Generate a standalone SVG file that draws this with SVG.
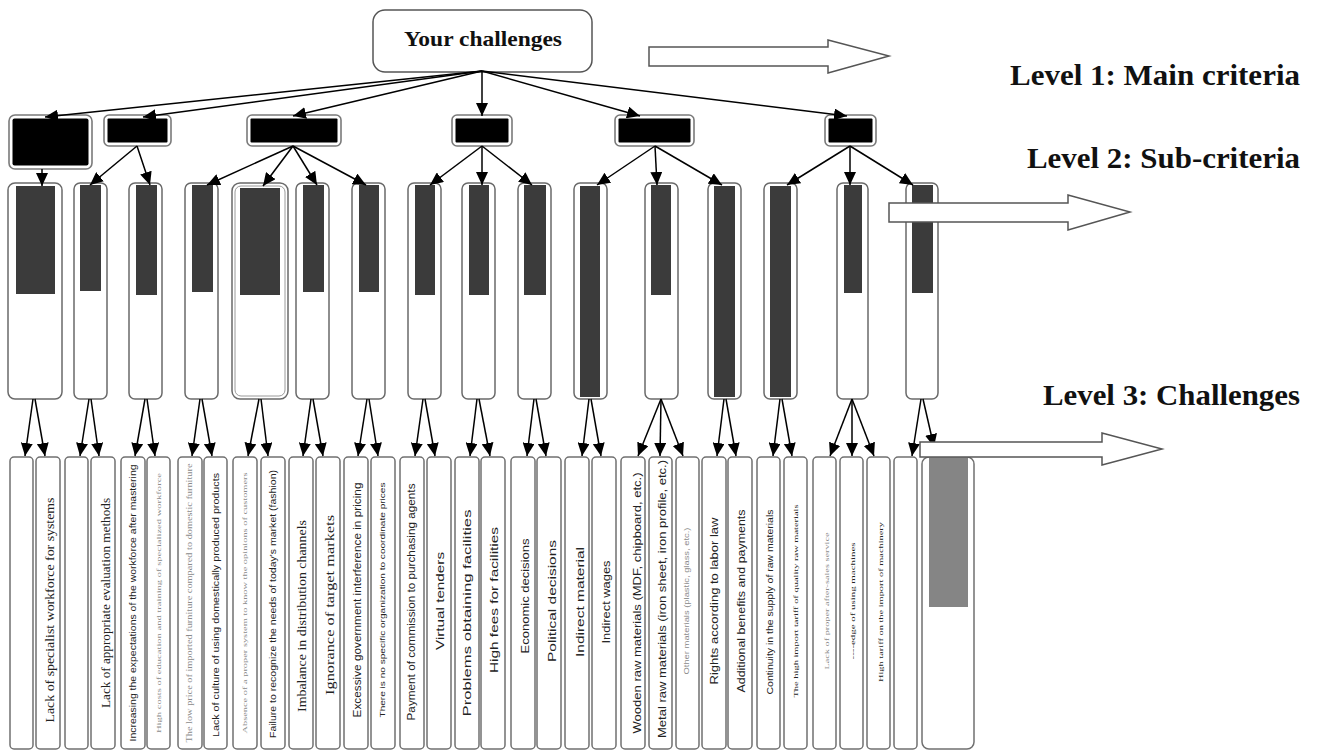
<svg xmlns="http://www.w3.org/2000/svg" width="1319" height="753" viewBox="0 0 1319 753">
<defs>
<marker id="ah" markerUnits="userSpaceOnUse" markerWidth="13" markerHeight="12" refX="13" refY="6" orient="auto">
<path d="M0,0 L13,6 L0,12 z" fill="#000"/>
</marker>
<style>
.root{fill:#fff;stroke:#555;stroke-width:1.5}
.l1o{fill:#fff;stroke:#7a7a7a;stroke-width:1.6}
.l1i{fill:#000}
.l2{fill:#fff;stroke:#6a6a6a;stroke-width:1.5}
.dk{fill:#3b3b3b}
.l3{fill:#fff;stroke:#707070;stroke-width:1.5}
.gr{fill:#858585}
.con line{stroke:#000;stroke-width:1.5;marker-end:url(#ah)}
.ha{fill:#fff;stroke:#555;stroke-width:1.5}
.lvl{font-family:"Liberation Serif",serif;font-weight:bold;fill:#111}
.t{font-family:"Liberation Serif",serif;fill:#222}
.s{font-family:"Liberation Sans",sans-serif;fill:#222}
.g{fill:#8a8a8a}
</style>
</defs>
<rect width="1319" height="753" fill="#fff"/>

<g id="root">
<rect class="root" x="373" y="10" width="219" height="62" rx="12"/>
<text class="lvl" x="483" y="46" font-size="22" text-anchor="middle" textLength="158" lengthAdjust="spacingAndGlyphs">Your challenges</text>
</g>

<g id="level1">
<g id="c1"><rect class="l1o" x="9" y="115" width="83" height="54" rx="6"/><rect class="l1i" x="12.5" y="118.5" width="76" height="47" rx="2"/></g>
<g id="c2"><rect class="l1o" x="104" y="115" width="67" height="31" rx="5"/><rect class="l1i" x="107.5" y="118.5" width="60" height="24" rx="1"/></g>
<g id="c3"><rect class="l1o" x="247" y="115" width="94" height="31" rx="5"/><rect class="l1i" x="250.5" y="118.5" width="87" height="24" rx="1"/></g>
<g id="c4"><rect class="l1o" x="452" y="115" width="60" height="31" rx="5"/><rect class="l1i" x="455.5" y="118.5" width="53" height="24" rx="1"/></g>
<g id="c5"><rect class="l1o" x="615" y="115" width="79" height="31" rx="5"/><rect class="l1i" x="618.5" y="118.5" width="72" height="24" rx="1"/></g>
<g id="c6"><rect class="l1o" x="825" y="115" width="51" height="31" rx="5"/><rect class="l1i" x="828.5" y="118.5" width="44" height="24" rx="1"/></g>
</g>

<g id="level2">
<g id="s1"><rect class="l2" x="8" y="183" width="54" height="216" rx="7"/><rect class="dk" x="16" y="186" width="39" height="108"/></g>
<g id="s2"><rect class="l2" x="74" y="183" width="33" height="216" rx="6"/><rect class="dk" x="80" y="185" width="21" height="106"/></g>
<g id="s3"><rect class="l2" x="129" y="183" width="33" height="216" rx="6"/><rect class="dk" x="136" y="185" width="21" height="110"/></g>
<g id="s4"><rect class="l2" x="185" y="183" width="33" height="216" rx="6"/><rect class="dk" x="192" y="185" width="21" height="107"/></g>
<g id="s5"><rect class="l2" x="232" y="183" width="56" height="216" rx="8"/><rect x="235" y="186" width="50" height="210" rx="6" fill="none" stroke="#9a9a9a" stroke-width="1"/><rect class="dk" x="240" y="188" width="40" height="107"/></g>
<g id="s6"><rect class="l2" x="296" y="183" width="33" height="216" rx="6"/><rect class="dk" x="303" y="185" width="21" height="107"/></g>
<g id="s7"><rect class="l2" x="352" y="183" width="33" height="216" rx="6"/><rect class="dk" x="359" y="185" width="20" height="107"/></g>
<g id="s8"><rect class="l2" x="408" y="183" width="33" height="216" rx="6"/><rect class="dk" x="415" y="185" width="20" height="110"/></g>
<g id="s9"><rect class="l2" x="462" y="183" width="33" height="216" rx="6"/><rect class="dk" x="469" y="185" width="20" height="110"/></g>
<g id="s10"><rect class="l2" x="518" y="183" width="33" height="216" rx="6"/><rect class="dk" x="524" y="185" width="22" height="110"/></g>
<g id="s11"><rect class="l2" x="574" y="183" width="33" height="216" rx="6"/><rect class="dk" x="580" y="186" width="20" height="211"/></g>
<g id="s12"><rect class="l2" x="645" y="183" width="33" height="216" rx="6"/><rect class="dk" x="651" y="185" width="20" height="110"/></g>
<g id="s13"><rect class="l2" x="708" y="183" width="33" height="216" rx="6"/><rect class="dk" x="714" y="186" width="21" height="211"/></g>
<g id="s14"><rect class="l2" x="764" y="183" width="33" height="216" rx="6"/><rect class="dk" x="770" y="186" width="21" height="211"/></g>
<g id="s15"><rect class="l2" x="837" y="183" width="31" height="216" rx="6"/><rect class="dk" x="844" y="185" width="18" height="108"/></g>
<g id="s16"><rect class="l2" x="906" y="183" width="32" height="216" rx="6"/><rect class="dk" x="912" y="185" width="21" height="108"/></g>
</g>

<g id="level3">
<g id="n1"><rect class="l3" x="10" y="457" width="23" height="292" rx="4"/></g>
<g id="n2"><rect class="l3" x="36" y="457" width="24" height="292" rx="4"/><text class="t" font-size="13" transform="translate(49,610) rotate(-90)" text-anchor="middle" dominant-baseline="central" textLength="225" lengthAdjust="spacingAndGlyphs">Lack of specialist workforce for systems</text></g>
<g id="n3"><rect class="l3" x="65" y="457" width="23" height="292" rx="4"/></g>
<g id="n4"><rect class="l3" x="91" y="457" width="24" height="292" rx="4"/><text class="t" font-size="13" transform="translate(105,603) rotate(-90)" text-anchor="middle" dominant-baseline="central" textLength="210" lengthAdjust="spacingAndGlyphs">Lack of appropriate evaluation methods</text></g>
<g id="n5"><rect class="l3" x="121" y="457" width="24" height="292" rx="4"/><text class="s" font-size="9" transform="translate(133,603) rotate(-90)" text-anchor="middle" dominant-baseline="central" textLength="277" lengthAdjust="spacingAndGlyphs">Increasing the expectations of the workforce after mastering</text></g>
<g id="n6"><rect class="l3" x="147" y="457" width="23" height="292" rx="4"/><text class="t g" font-size="7" transform="translate(159,603) rotate(-90)" text-anchor="middle" dominant-baseline="central" textLength="260" lengthAdjust="spacingAndGlyphs">High costs of education and training of specialized workforce</text></g>
<g id="n7"><rect class="l3" x="178" y="457" width="24" height="292" rx="4"/><text class="t g" font-size="7.5" transform="translate(189,603) rotate(-90)" text-anchor="middle" dominant-baseline="central" textLength="279" lengthAdjust="spacingAndGlyphs">The low price of imported furniture compared to domestic furniture</text></g>
<g id="n8"><rect class="l3" x="204" y="457" width="23" height="292" rx="4"/><text class="s" font-size="8.5" transform="translate(216,605) rotate(-90)" text-anchor="middle" dominant-baseline="central" textLength="264" lengthAdjust="spacingAndGlyphs">Lack of culture of using domestically produced products</text></g>
<g id="n9"><rect class="l3" x="233" y="457" width="24" height="292" rx="4"/><text class="t g" font-size="7" transform="translate(245,603) rotate(-90)" text-anchor="middle" dominant-baseline="central" textLength="261" lengthAdjust="spacingAndGlyphs">Absence of a proper system to know the opinions of customers</text></g>
<g id="n10"><rect class="l3" x="261" y="457" width="24" height="292" rx="4"/><text class="s" font-size="8.5" transform="translate(273,604) rotate(-90)" text-anchor="middle" dominant-baseline="central" textLength="268" lengthAdjust="spacingAndGlyphs">Failure to recognize the needs of today's market (fashion)</text></g>
<g id="n11"><rect class="l3" x="289" y="457" width="24" height="292" rx="4"/><text class="t" font-size="13" transform="translate(301,616) rotate(-90)" text-anchor="middle" dominant-baseline="central" textLength="192" lengthAdjust="spacingAndGlyphs">Imbalance in distribution channels</text></g>
<g id="n12"><rect class="l3" x="316" y="457" width="24" height="292" rx="4"/><text class="t" font-size="13" transform="translate(329,605) rotate(-90)" text-anchor="middle" dominant-baseline="central" textLength="180" lengthAdjust="spacingAndGlyphs">Ignorance of target markets</text></g>
<g id="n13"><rect class="l3" x="344" y="457" width="24" height="292" rx="4"/><text class="s" font-size="10" transform="translate(357,600) rotate(-90)" text-anchor="middle" dominant-baseline="central" textLength="235" lengthAdjust="spacingAndGlyphs">Excessive government interference in pricing</text></g>
<g id="n14"><rect class="l3" x="371" y="457" width="24" height="292" rx="4"/><text class="s" font-size="7.5" transform="translate(382,600) rotate(-90)" text-anchor="middle" dominant-baseline="central" textLength="235" lengthAdjust="spacingAndGlyphs">There is no specific organization to coordinate prices</text></g>
<g id="n15"><rect class="l3" x="400" y="457" width="24" height="292" rx="4"/><text class="s" font-size="10" transform="translate(411,602) rotate(-90)" text-anchor="middle" dominant-baseline="central" textLength="237" lengthAdjust="spacingAndGlyphs">Payment of commission to purchasing agents</text></g>
<g id="n16"><rect class="l3" x="427" y="457" width="24" height="292" rx="4"/><text class="s" font-size="10" fill="#444" transform="translate(440,601) rotate(-90)" text-anchor="middle" dominant-baseline="central" textLength="98" lengthAdjust="spacingAndGlyphs">Virtual tenders</text></g>
<g id="n17"><rect class="l3" x="455" y="457" width="24" height="292" rx="4"/><text class="s" font-size="10" transform="translate(467,613) rotate(-90)" text-anchor="middle" dominant-baseline="central" textLength="207" lengthAdjust="spacingAndGlyphs">Problems obtaining facilities</text></g>
<g id="n18"><rect class="l3" x="481" y="457" width="24" height="292" rx="4"/><text class="s" font-size="11" transform="translate(494,600) rotate(-90)" text-anchor="middle" dominant-baseline="central" textLength="146" lengthAdjust="spacingAndGlyphs">High fees for facilities</text></g>
<g id="n19"><rect class="l3" x="511" y="457" width="24" height="292" rx="4"/><text class="s" font-size="10" transform="translate(525,596) rotate(-90)" text-anchor="middle" dominant-baseline="central" textLength="115" lengthAdjust="spacingAndGlyphs">Economic decisions</text></g>
<g id="n20"><rect class="l3" x="537" y="457" width="24" height="292" rx="4"/><text class="s" font-size="10" transform="translate(552,601) rotate(-90)" text-anchor="middle" dominant-baseline="central" textLength="122" lengthAdjust="spacingAndGlyphs">Political decisions</text></g>
<g id="n21"><rect class="l3" x="565" y="457" width="24" height="292" rx="4"/><text class="s" font-size="10" fill="#444" transform="translate(580,602) rotate(-90)" text-anchor="middle" dominant-baseline="central" textLength="110" lengthAdjust="spacingAndGlyphs">Indirect material</text></g>
<g id="n22"><rect class="l3" x="592" y="457" width="24" height="292" rx="4"/><text class="s" font-size="10" transform="translate(606,602) rotate(-90)" text-anchor="middle" dominant-baseline="central" textLength="83" lengthAdjust="spacingAndGlyphs">Indirect wages</text></g>
<g id="n23"><rect class="l3" x="621" y="457" width="24" height="292" rx="4"/><text class="s" font-size="11" transform="translate(637,603) rotate(-90)" text-anchor="middle" dominant-baseline="central" textLength="261" lengthAdjust="spacingAndGlyphs">Wooden raw materials (MDF, chipboard, etc.)</text></g>
<g id="n24"><rect class="l3" x="649" y="457" width="23" height="292" rx="4"/><text class="s" font-size="11" transform="translate(662,599) rotate(-90)" text-anchor="middle" dominant-baseline="central" textLength="278" lengthAdjust="spacingAndGlyphs">Metal raw materials (iron sheet, iron profile, etc.)</text></g>
<g id="n25"><rect class="l3" x="676" y="457" width="23" height="292" rx="4"/><text class="s g" font-size="7" transform="translate(686,601) rotate(-90)" text-anchor="middle" dominant-baseline="central" textLength="147" lengthAdjust="spacingAndGlyphs">Other materials (plastic, glass, etc.)</text></g>
<g id="n26"><rect class="l3" x="702" y="457" width="24" height="292" rx="4"/><text class="s" font-size="11" transform="translate(714,601) rotate(-90)" text-anchor="middle" dominant-baseline="central" textLength="167" lengthAdjust="spacingAndGlyphs">Rights according to labor law</text></g>
<g id="n27"><rect class="l3" x="728" y="457" width="24" height="292" rx="4"/><text class="s" font-size="11" transform="translate(741,601) rotate(-90)" text-anchor="middle" dominant-baseline="central" textLength="183" lengthAdjust="spacingAndGlyphs">Additional benefits and payments</text></g>
<g id="n28"><rect class="l3" x="757" y="457" width="23" height="292" rx="4"/><text class="s" font-size="8.5" transform="translate(770,602) rotate(-90)" text-anchor="middle" dominant-baseline="central" textLength="185" lengthAdjust="spacingAndGlyphs">Continuity in the supply of raw materials</text></g>
<g id="n29"><rect class="l3" x="784" y="457" width="23" height="292" rx="4"/><text class="t" font-size="7" transform="translate(796,601) rotate(-90)" text-anchor="middle" dominant-baseline="central" textLength="193" lengthAdjust="spacingAndGlyphs">The high import tariff of quality raw materials</text></g>
<g id="n30"><rect class="l3" x="813" y="457" width="23" height="292" rx="4"/><text class="t g" font-size="6.5" transform="translate(826,601) rotate(-90)" text-anchor="middle" dominant-baseline="central" textLength="137" lengthAdjust="spacingAndGlyphs">Lack of proper after-sales service</text></g>
<g id="n31"><rect class="l3" x="840" y="457" width="23" height="292" rx="4"/><text class="t" font-size="6.5" fill="#555" transform="translate(852,601) rotate(-90)" text-anchor="middle" dominant-baseline="central" textLength="117" lengthAdjust="spacingAndGlyphs">----edge of using machines</text></g>
<g id="n32"><rect class="l3" x="867" y="457" width="23" height="292" rx="4"/><text class="t" font-size="6.5" fill="#444" transform="translate(880,602) rotate(-90)" text-anchor="middle" dominant-baseline="central" textLength="160" lengthAdjust="spacingAndGlyphs">High tariff on the import of machinery</text></g>
<g id="n33"><rect class="l3" x="894" y="457" width="23" height="292" rx="4"/></g>
<g id="n34"><rect class="l3" x="922" y="457" width="52" height="292" rx="7"/><rect class="gr" x="929" y="458" width="39" height="149"/></g>
</g>

<g id="connectors" class="con">
<line x1="482" y1="71" x2="45" y2="117"/>
<line x1="482" y1="71" x2="143" y2="117"/>
<line x1="482" y1="71" x2="293" y2="116"/>
<line x1="482" y1="71" x2="482" y2="116"/>
<line x1="482" y1="71" x2="640" y2="116"/>
<line x1="482" y1="71" x2="847" y2="116"/>

<line x1="42" y1="169" x2="42" y2="186"/>
<line x1="137" y1="146" x2="90" y2="185"/>
<line x1="137" y1="146" x2="150" y2="185"/>
<line x1="293" y1="146" x2="207" y2="185"/>
<line x1="293" y1="146" x2="263" y2="186"/>
<line x1="293" y1="146" x2="317" y2="185"/>
<line x1="293" y1="146" x2="366" y2="185"/>
<line x1="482" y1="146" x2="430" y2="185"/>
<line x1="482" y1="146" x2="482" y2="185"/>
<line x1="482" y1="146" x2="532" y2="185"/>
<line x1="655" y1="146" x2="597" y2="185"/>
<line x1="655" y1="146" x2="657" y2="185"/>
<line x1="655" y1="146" x2="722" y2="185"/>
<line x1="850" y1="146" x2="787" y2="185"/>
<line x1="850" y1="146" x2="850" y2="185"/>
<line x1="850" y1="146" x2="913" y2="185"/>

<line x1="33" y1="399" x2="25" y2="456"/>
<line x1="35" y1="399" x2="45" y2="456"/>
<line x1="89" y1="399" x2="80" y2="456"/>
<line x1="91" y1="399" x2="99" y2="456"/>
<line x1="145" y1="399" x2="135" y2="456"/>
<line x1="147" y1="399" x2="155" y2="456"/>
<line x1="200" y1="399" x2="192" y2="456"/>
<line x1="202" y1="399" x2="212" y2="456"/>
<line x1="259" y1="399" x2="248" y2="456"/>
<line x1="261" y1="399" x2="268" y2="456"/>
<line x1="311" y1="399" x2="303" y2="456"/>
<line x1="313" y1="399" x2="323" y2="456"/>
<line x1="367" y1="399" x2="358" y2="456"/>
<line x1="369" y1="399" x2="378" y2="456"/>
<line x1="423" y1="399" x2="415" y2="456"/>
<line x1="425" y1="399" x2="435" y2="456"/>
<line x1="477" y1="399" x2="470" y2="456"/>
<line x1="479" y1="399" x2="490" y2="456"/>
<line x1="534" y1="399" x2="527" y2="456"/>
<line x1="536" y1="399" x2="546" y2="456"/>
<line x1="589" y1="399" x2="582" y2="456"/>
<line x1="591" y1="399" x2="601" y2="456"/>
<line x1="661" y1="399" x2="638" y2="456"/>
<line x1="661" y1="399" x2="660" y2="456"/>
<line x1="661" y1="399" x2="683" y2="456"/>
<line x1="724" y1="399" x2="717" y2="456"/>
<line x1="726" y1="399" x2="736" y2="456"/>
<line x1="780" y1="399" x2="773" y2="456"/>
<line x1="782" y1="399" x2="792" y2="456"/>
<line x1="852" y1="399" x2="830" y2="456"/>
<line x1="852" y1="399" x2="852" y2="456"/>
<line x1="852" y1="399" x2="874" y2="456"/>
<line x1="921" y1="399" x2="912" y2="456"/>
<line x1="923" y1="399" x2="934" y2="447"/>
</g>

<g id="level-arrows">
<polygon class="ha" points="649,47 828,47 828,40 889,56 828,73 828,66 649,66"/>
<polygon class="ha" points="889,203 1068,203 1068,195 1130,212 1068,230 1068,222 889,222"/>
<polygon class="ha" points="920,442 1102,442 1102,433 1162,449 1102,465 1102,457 920,457"/>
</g>

<g id="level-labels">
<text class="lvl" x="1010" y="85" font-size="29" textLength="290" lengthAdjust="spacingAndGlyphs">Level 1: Main criteria</text>
<text class="lvl" x="1027" y="168" font-size="29" textLength="273" lengthAdjust="spacingAndGlyphs">Level 2: Sub-criteria</text>
<text class="lvl" x="1043" y="405" font-size="29" textLength="257" lengthAdjust="spacingAndGlyphs">Level 3: Challenges</text>
</g>
</svg>
